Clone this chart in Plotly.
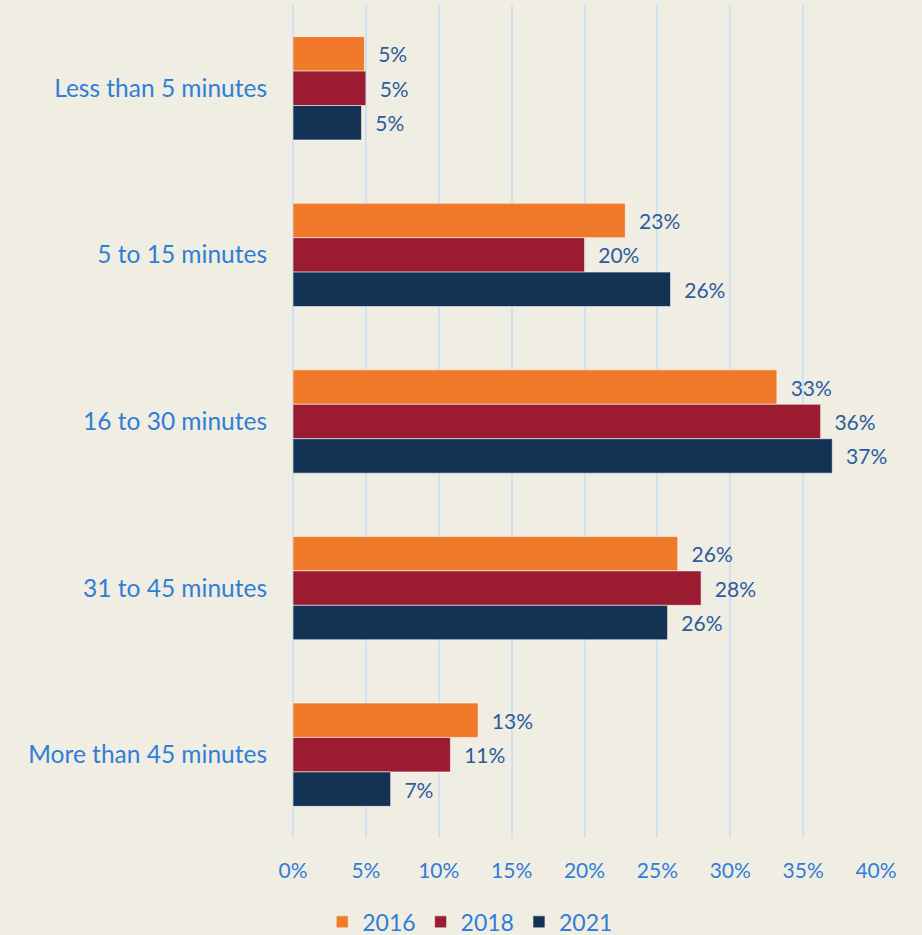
import plotly.graph_objects as go

categories = ["Less than 5 minutes", "5 to 15 minutes", "16 to 30 minutes",
              "31 to 45 minutes", "More than 45 minutes"]
years = ["2016", "2018", "2021"]
values_2016 = [4.9, 22.8, 33.2, 26.4, 12.7]
values_2018 = [5.0, 20.0, 36.2, 28.0, 10.8]
values_2021 = [4.7, 25.9, 37.0, 25.7, 6.7]
series = [values_2016, values_2018, values_2021]
colors = ["#F07A2A", "#9B1C31", "#133254"]
x_ticks = [0, 5, 10, 15, 20, 25, 30, 35, 40]
x_tick_labels = [f"{t}%" for t in x_ticks]

FONT = "Lato"
fig = go.Figure()
for name, vals, col in zip(years, series, colors):
    fig.add_trace(go.Bar(
        y=categories, x=vals, name=name, orientation="h",
        marker=dict(color=col, line=dict(color="rgba(255,255,255,0.55)", width=1)),
        texttemplate="  %{x:.0f}%", textposition="outside",
        textfont=dict(family=FONT, size=21, color="#2B5C9E"),
        cliponaxis=False, constraintext="none",
    ))

fig.update_layout(
    width=922, height=935,
    paper_bgcolor="#F0EDE2", plot_bgcolor="#F0EDE2",
    barmode="group", bargap=0.38, bargroupgap=0,
    margin=dict(l=293, r=46, t=5, b=97),
    font=dict(family=FONT, color="#2F7ED8"),
    legend=dict(orientation="h", xref="container", yref="container",
                x=0.51, y=0.014, xanchor="center", yanchor="middle",
                font=dict(family=FONT, size=23, color="#2F7ED8"),
                itemwidth=30, tracegroupgap=0),
    showlegend=True,
)
fig.update_xaxes(range=[0, 40], tickvals=x_ticks, ticktext=x_tick_labels,
                 showgrid=True, gridcolor="#D0E1F2", gridwidth=2,
                 zeroline=True, zerolinecolor="#D0E1F2", zerolinewidth=2,
                 showline=False, tickfont=dict(family=FONT, size=21, color="#2F7ED8"),
                 ticklabelstandoff=18, fixedrange=True)
fig.update_yaxes(autorange="reversed", showgrid=False, showline=False,
                 tickfont=dict(family=FONT, size=24.5, color="#2F7ED8"),
                 ticklabelstandoff=25)

fig.write_html("out.html", config={"displayModeBar": False},
               post_script="document.body.style.margin='0';document.body.style.padding='0';")
